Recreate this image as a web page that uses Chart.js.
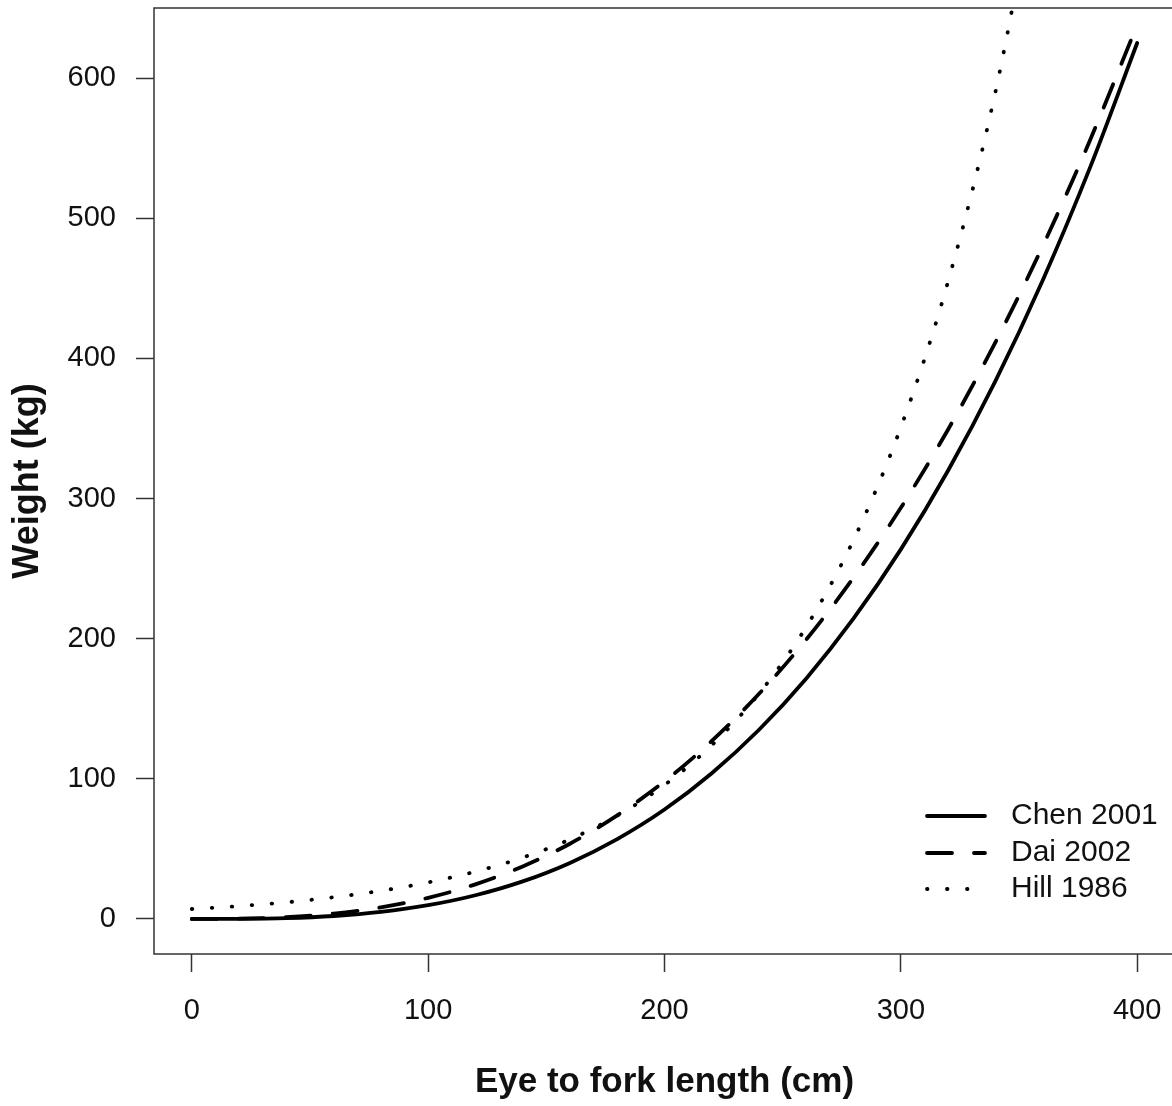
<!DOCTYPE html>
<html>
<head>
<meta charset="utf-8">
<script src="https://cdn.jsdelivr.net/npm/chart.js@4"></script>
<style>
  html, body { margin: 0; padding: 0; background: #fff; overflow: hidden; }
  #LengthWeight { display: block; }
</style>
</head>
<body>
<canvas id="LengthWeight" width="1178" height="1106"></canvas>
<script>
// Eye to fork length (cm), read every 20 cm
const lengths = [0, 20, 40, 60, 80, 100, 120, 140, 160, 180, 200, 220, 240, 260, 280, 300, 320, 340, 360, 380, 400];

// Weight (kg)
const chen2001 = [0, 0.08, 0.6, 2.1, 5.0, 9.8, 16.9, 26.8, 40.0, 57.0, 78.1, 104.0, 135.0, 171.6, 214.4, 263.7, 320.0, 383.8, 455.6, 535.9, 625.0];
const dai2002 = [0, 0.2, 1.3, 3.8, 8.3, 15.1, 24.7, 37.5, 53.7, 73.9, 98.2, 127.0, 160.7, 199.4, 243.6, 293.4, 349.3, 411.4, 480.0, 555.5, 638.0];
const hill1986 = [7.1, 9.2, 11.9, 15.5, 20.1, 26.1, 33.8, 43.8, 56.8, 73.7, 95.6, 124.0, 160.8, 208.5, 270.5, 350.8, 454.9, 590.0, 765.2];

const seriesNames = ['Chen 2001', 'Dai 2002', 'Hill 1986'];
const xTicks = [0, 100, 200, 300, 400];
const yTicks = [0, 100, 200, 300, 400, 500, 600];

const toPoints = vals => vals.map((v, i) => ({ x: lengths[i], y: v }));

const axisColor = '#333';
const textColor = '#111';
const fontFamily = '"Liberation Sans", Arial, sans-serif';

// box around the plot region, like base R
const framePlugin = {
  id: 'frame',
  afterDraw(chart) {
    const { ctx, chartArea: a } = chart;
    ctx.save();
    ctx.strokeStyle = axisColor;
    ctx.lineWidth = 1.5;
    ctx.strokeRect(a.left, a.top, a.right - a.left, a.bottom - a.top);
    ctx.restore();
  }
};

// legend in the lower right corner, no box
const legendPlugin = {
  id: 'cornerLegend',
  afterDraw(chart) {
    const ctx = chart.ctx;
    const rows = [816, 853, 889];
    ctx.save();
    chart.data.datasets.forEach((ds, i) => {
      const y = rows[i];
      ctx.strokeStyle = ds.borderColor;
      ctx.lineWidth = ds.borderWidth;
      ctx.lineCap = 'round';
      ctx.setLineDash(ds.borderDash || []);
      ctx.beginPath();
      ctx.moveTo(927, y);
      ctx.lineTo(985, y);
      ctx.stroke();
      ctx.setLineDash([]);
      ctx.fillStyle = textColor;
      ctx.font = '30px ' + fontFamily;
      ctx.textAlign = 'left';
      ctx.textBaseline = 'middle';
      ctx.fillText(ds.label, 1011, y);
    });
    ctx.restore();
  }
};

const lineStyle = {
  borderColor: '#000',
  borderWidth: 3.8,
  borderCapStyle: 'round',
  pointRadius: 0,
  fill: false,
  cubicInterpolationMode: 'monotone'
};

const config = {
  type: 'line',
  data: {
    datasets: [
      { ...lineStyle, label: seriesNames[0], data: toPoints(chen2001) },
      { ...lineStyle, label: seriesNames[1], data: toPoints(dai2002), borderDash: [25, 22] },
      { ...lineStyle, label: seriesNames[2], data: toPoints(hill1986), borderDash: [0.5, 19.5] }
    ]
  },
  options: {
    responsive: false,
    animation: false,
    layout: { padding: { top: 8, right: 3, left: 0, bottom: 0 } },
    plugins: { legend: { display: false }, tooltip: { enabled: false } },
    scales: {
      x: {
        type: 'linear',
        min: -16,
        max: 416,
        afterBuildTicks: s => { s.ticks = xTicks.map(v => ({ value: v })); },
        afterFit: s => { s.height = 152; s.paddingLeft = 0; s.paddingRight = 0; },
        border: { display: false },
        grid: { drawOnChartArea: false, drawTicks: true, tickLength: 18, color: axisColor, tickWidth: 1.5 },
        ticks: { color: textColor, padding: 22, maxRotation: 0, font: { family: fontFamily, size: 29 } },
        title: {
          display: true,
          text: 'Eye to fork length (cm)',
          color: textColor,
          padding: { bottom: 3 },
          font: { family: fontFamily, size: 35, weight: 'bold' }
        }
      },
      y: {
        type: 'linear',
        min: -25,
        max: 650,
        afterBuildTicks: s => { s.ticks = yTicks.map(v => ({ value: v })); },
        afterFit: s => { s.width = 154; s.paddingTop = 0; s.paddingBottom = 0; },
        border: { display: false },
        grid: { drawOnChartArea: false, drawTicks: true, tickLength: 18, color: axisColor, tickWidth: 1.5 },
        ticks: { color: textColor, padding: 20, font: { family: fontFamily, size: 29 } },
        title: {
          display: true,
          text: 'Weight (kg)',
          color: textColor,
          padding: { top: 6 },
          font: { family: fontFamily, size: 36, weight: 'bold' }
        }
      }
    }
  },
  plugins: [framePlugin, legendPlugin]
};

new Chart(document.getElementById('LengthWeight').getContext('2d'), config);
</script>
</body>
</html>
